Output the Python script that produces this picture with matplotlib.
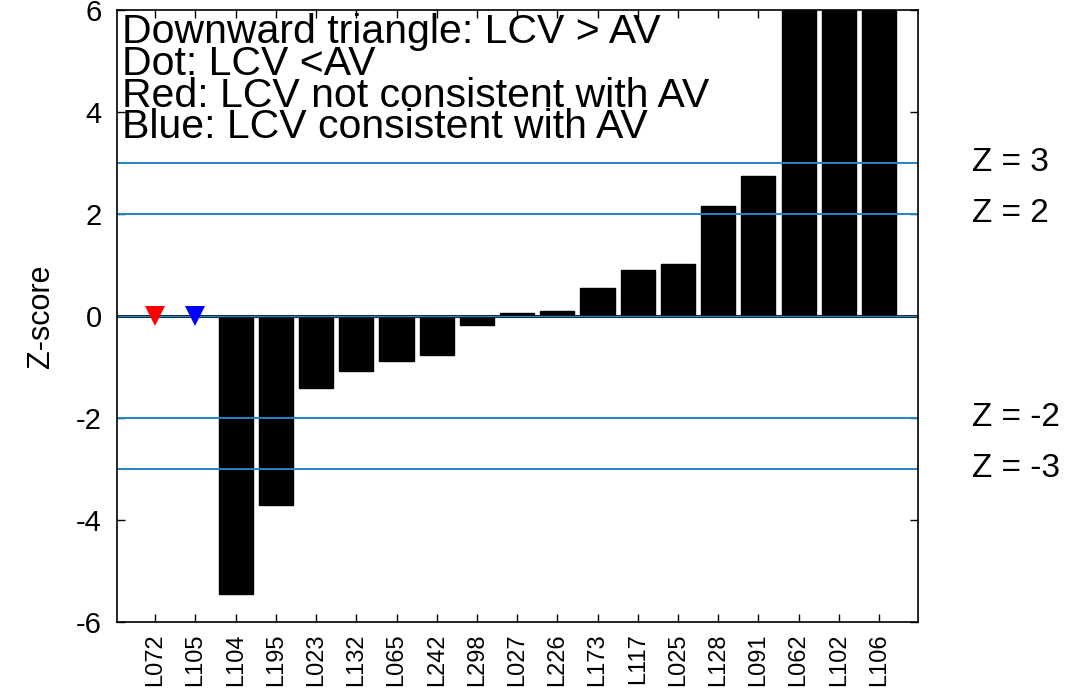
import matplotlib
matplotlib.use('Agg')
import matplotlib.pyplot as plt
import matplotlib.transforms as mtransforms

plt.rcParams['font.family'] = ['Liberation Sans', 'DejaVu Sans']
plt.rcParams['axes.unicode_minus'] = False

LINE_BLUE = "#2385c4"

labels = ['L072', 'L105', 'L104', 'L195', 'L023', 'L132', 'L065', 'L242', 'L298',
          'L027', 'L226', 'L173', 'L117', 'L025', 'L128', 'L091', 'L062', 'L102', 'L106']
# z-scores; the first two labs are shown as triangles only (no bar)
zscores = [0.0, 0.0, -5.45, -3.7, -1.41, -1.08, -0.88, -0.76, -0.18,
           0.06, 0.10, 0.55, 0.90, 1.02, 2.16, 2.74, 8.0, 8.0, 8.0]
has_bar = [False, False] + [True] * 17
marker_labs = [1, 2]
marker_colors = ['#ff0000', '#0000ff']

z_lines = [3, 2, -2, -3]
z_texts = ['Z = 3', 'Z = 2', 'Z = -2', 'Z = -3']

notes = ['Downward triangle: LCV > AV',
         'Dot: LCV <AV',
         'Red: LCV not consistent with AV',
         'Blue: LCV consistent with AV']

x = list(range(1, len(labels) + 1))

fig = plt.figure(figsize=(10.67, 6.9), dpi=100)
ax = fig.add_axes([0.1097, 0.0986, 0.7507, 0.8869])

bx = [xi for xi, b in zip(x, has_bar) if b]
bz = [zi for zi, b in zip(zscores, has_bar) if b]
ax.bar(bx, bz, width=0.85, color='black', edgecolor='black', zorder=2)

# reference lines
ax.axhline(0, color='black', lw=2.0, zorder=3)
ax.axhline(0, color=LINE_BLUE, lw=1.0, zorder=3)
for zl in z_lines:
    ax.axhline(zl, color=LINE_BLUE, lw=1.4, zorder=3)

for m, c in zip(marker_labs, marker_colors):
    ax.plot(m, 0, marker='v', color=c, markersize=15, markeredgewidth=0, zorder=4)

ax.set_xlim(0.05, 19.97)
ax.set_ylim(-6, 6)
ax.set_yticks([-6, -4, -2, 0, 2, 4, 6])
ax.set_xticks(x)
ax.set_xticklabels(labels, rotation=90, fontsize=17)
ax.tick_params(axis='y', labelsize=21, pad=11)
ax.tick_params(axis='x', pad=8)
ax.tick_params(direction='in', length=6, width=1, top=True, right=True)
for s in ax.spines.values():
    s.set_linewidth(1.2)
    s.set_zorder(5)
ax.set_ylabel('Z-score', fontsize=22, labelpad=14)

trans = mtransforms.blended_transform_factory(ax.transAxes, ax.transData)
for zl, t in zip(z_lines, z_texts):
    ax.text(1.067, zl, t, transform=trans, fontsize=24, va='center', ha='left',
            clip_on=False)

ys = [0.946, 0.894, 0.842, 0.791]
for yy, t in zip(ys, notes):
    ax.text(0.006, yy, t, transform=ax.transAxes, fontsize=29.5, va='baseline',
            ha='left', zorder=6)

fig.savefig('out.png', dpi=100)
